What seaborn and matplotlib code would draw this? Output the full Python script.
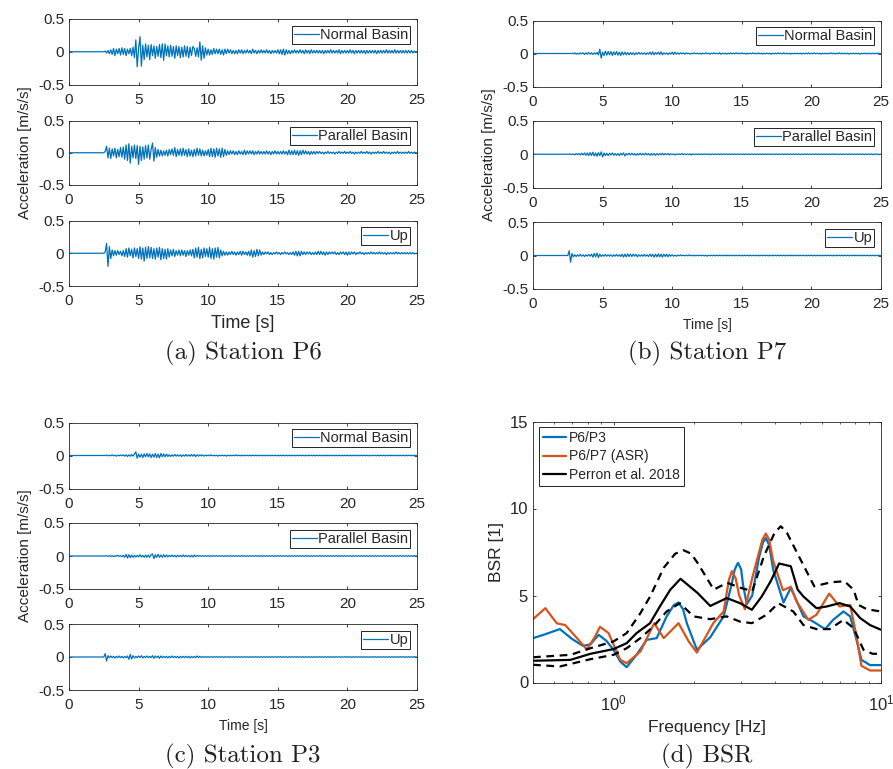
import matplotlib
matplotlib.use("Agg")
import matplotlib.pyplot as plt
import seaborn as sns
import numpy as np
from matplotlib.ticker import FormatStrFormatter

# record time base: 2.0 s .. 24.9 s, 0.1 s step (records are 0 before 2 s)
t_rec = np.arange(20, 250) / 10.0

# ---- station P6 accelerations [m/s/s], one row = 1 s ----
p6_normal = [
    0, 0, 0, 0, 0, 0, 0.01, -0.02, 0.02, -0.03,
    0.03, -0.04, 0.05, -0.06, 0.04, -0.03, 0.05, -0.05, 0.06, -0.04,
    0.05, -0.06, 0.04, -0.03, 0.05, -0.06, 0.07, -0.09, 0.18, -0.23,
    0.05, 0.23, -0.22, 0.10, -0.12, 0.12, -0.08, 0.10, -0.12, 0.11,
    -0.06, 0.09, -0.10, 0.08, -0.07, 0.11, -0.09, 0.12, -0.13, 0.12,
    -0.06, 0.09, -0.08, 0.10, -0.07, 0.08, -0.10, 0.09, -0.06, 0.08,
    -0.09, 0.07, -0.08, 0.09, -0.07, 0.08, -0.09, 0.07, -0.06, 0.08,
    0.05, -0.07, 0.06, -0.08, 0.15, -0.13, 0.09, -0.10, 0.06, -0.05,
    0.04, -0.05, 0.03, -0.04, 0.05, -0.03, 0.04, -0.03, 0.04, -0.04,
    0.03, -0.05, 0.04, -0.03, 0.04, -0.02, 0.03, -0.03, 0.02, -0.03,
    0.02, -0.03, 0.03, -0.02, 0.03, -0.03, 0.02, -0.02, 0.03, -0.02,
    0.02, -0.03, 0.04, -0.02, 0.02, -0.03, 0.02, -0.02, 0.03, -0.02,
    0.02, -0.02, 0.03, -0.02, 0.02, -0.03, 0.02, -0.02, 0.02, -0.02,
    0.03, -0.03, 0.03, -0.04, 0.04, -0.05, 0.03, -0.03, 0.02, -0.03,
    0.02, -0.02, 0.03, -0.02, 0.02, -0.02, 0.03, -0.02, 0.02, -0.03,
    0.03, -0.02, 0.02, -0.03, 0.03, -0.02, 0.02, -0.02, 0.02, -0.02,
    0.02, -0.02, 0.02, -0.03, 0.02, -0.02, 0.02, -0.02, 0.03, -0.02,
    0.02, -0.02, 0.02, -0.02, 0.03, -0.03, 0.02, -0.02, 0.02, -0.02,
    0.02, -0.02, 0.03, -0.02, 0.02, -0.03, 0.02, -0.02, 0.02, -0.02,
    0.02, -0.02, 0.02, -0.03, 0.02, -0.02, 0.02, -0.02, 0.02, -0.02,
    0.02, -0.03, 0.02, -0.02, 0.02, -0.02, 0.02, -0.02, 0.03, -0.02,
    0.02, -0.02, 0.02, -0.02, 0.03, -0.02, 0.02, -0.02, 0.02, -0.02,
    0.02, -0.02, 0.02, -0.02, 0.02, -0.02, 0.02, -0.02, 0.01, 0.0,
]
p6_parallel = [
    0, 0, 0, 0, 0, 0, 0.02, 0.10, -0.08, 0.07,
    -0.09, 0.06, -0.05, 0.07, -0.08, 0.05, -0.06, 0.08, -0.07, 0.09,
    -0.10, 0.12, -0.12, 0.14, -0.16, 0.10, -0.08, 0.12, -0.09, 0.11,
    -0.18, 0.10, -0.12, 0.09, -0.10, 0.11, -0.08, 0.12, -0.10, 0.05,
    0.15, -0.13, 0.08, -0.07, 0.05, -0.05, 0.04, -0.05, 0.03, -0.04,
    0.04, -0.05, 0.05, -0.03, 0.06, -0.04, 0.08, -0.06, 0.05, -0.04,
    0.06, -0.05, 0.07, -0.04, 0.05, -0.06, 0.06, -0.05, 0.04, -0.06,
    0.05, -0.05, 0.07, -0.04, 0.06, -0.05, 0.04, -0.05, 0.03, -0.04,
    0.05, -0.06, 0.07, -0.06, 0.06, -0.07, 0.07, -0.05, 0.06, -0.07,
    0.07, -0.06, 0.05, -0.04, 0.03, -0.03, 0.03, -0.02, 0.03, -0.03,
    0.02, -0.03, 0.03, -0.02, 0.02, -0.03, 0.04, -0.03, 0.03, -0.02,
    0.03, -0.02, 0.03, -0.03, 0.02, -0.02, 0.03, -0.02, 0.02, -0.02,
    0.02, -0.02, 0.03, -0.02, 0.02, -0.03, 0.02, -0.02, 0.03, -0.02,
    0.02, -0.02, 0.02, -0.02, 0.03, -0.02, 0.02, -0.03, 0.04, -0.03,
    0.03, -0.03, 0.04, -0.03, 0.03, -0.04, 0.03, -0.03, 0.04, -0.02,
    0.03, -0.02, 0.02, -0.03, 0.02, -0.02, 0.02, -0.02, 0.02, -0.01,
    0.02, -0.01, 0.01, -0.02, 0.01, -0.01, 0.02, -0.01, 0.01, -0.01,
    0.01, -0.02, 0.01, -0.01, 0.02, -0.01, 0.01, -0.01, 0.02, -0.01,
    0.01, -0.01, 0.02, -0.01, 0.01, -0.02, 0.01, -0.01, 0.01, -0.01,
    0.02, -0.01, 0.01, -0.01, 0.02, -0.01, 0.01, -0.02, 0.01, -0.01,
    0.01, -0.01, 0.02, -0.01, 0.01, -0.01, 0.02, -0.01, 0.01, -0.01,
    0.01, -0.02, 0.01, -0.01, 0.01, -0.01, 0.02, -0.01, 0.01, -0.01,
    0.01, -0.01, 0.01, -0.01, 0.02, -0.01, 0.01, -0.01, 0.01, 0.0,
]
p6_up = [
    0, 0, 0, 0, 0, 0, 0.02, 0.15, -0.20, 0.10,
    -0.08, 0.05, -0.04, 0.04, -0.03, 0.04, -0.02, 0.03, -0.04, 0.04,
    -0.05, 0.07, -0.06, 0.08, -0.04, 0.06, -0.07, 0.08, -0.05, 0.07,
    -0.08, 0.10, -0.09, 0.08, -0.12, 0.09, -0.08, 0.10, -0.07, 0.09,
    -0.08, 0.07, -0.09, 0.08, -0.06, 0.09, -0.10, 0.07, -0.08, 0.06,
    -0.09, 0.07, -0.06, 0.05, -0.04, 0.06, -0.05, 0.04, -0.03, 0.05,
    -0.04, 0.05, -0.03, 0.04, -0.05, 0.04, -0.03, 0.05, -0.04, 0.06,
    -0.07, 0.08, -0.06, 0.09, -0.08, 0.06, -0.07, 0.08, -0.05, 0.07,
    -0.06, 0.09, -0.08, 0.07, -0.09, 0.08, -0.06, 0.09, -0.07, 0.05,
    -0.04, 0.03, -0.03, 0.02, -0.03, 0.02, -0.02, 0.03, -0.02, 0.02,
    -0.03, 0.02, -0.02, 0.03, -0.03, 0.03, -0.02, 0.02, -0.03, 0.03,
    -0.04, 0.05, -0.06, 0.04, -0.05, 0.06, -0.04, 0.05, -0.03, 0.02,
    -0.02, 0.02, -0.01, 0.02, -0.02, 0.01, -0.02, 0.01, -0.01, 0.02,
    -0.01, 0.01, -0.02, 0.01, -0.01, 0.02, -0.01, 0.01, -0.02, 0.01,
    -0.02, 0.02, -0.03, 0.03, -0.04, 0.03, -0.04, 0.03, -0.02, 0.02,
    -0.02, 0.02, -0.01, 0.02, -0.02, 0.01, -0.02, 0.02, -0.02, 0.03,
    -0.02, 0.03, -0.02, 0.02, -0.03, 0.02, -0.02, 0.02, -0.01, 0.02,
    -0.01, 0.02, -0.02, 0.01, -0.02, 0.02, -0.01, 0.02, -0.02, 0.02,
    -0.03, 0.02, -0.02, 0.02, -0.01, 0.02, -0.02, 0.01, -0.01, 0.02,
    -0.01, 0.01, -0.02, 0.01, -0.01, 0.01, -0.01, 0.02, -0.01, 0.01,
    -0.01, 0.01, -0.01, 0.02, -0.01, 0.01, -0.01, 0.01, -0.02, 0.01,
    -0.01, 0.01, -0.01, 0.01, -0.01, 0.02, -0.01, 0.01, -0.01, 0.01,
    -0.01, 0.01, -0.01, 0.01, -0.01, 0.01, -0.01, 0.01, -0.01, 0.0,
]

# ---- station P7 ----
p7_normal = [
    0, 0, 0, 0, 0, 0, 0, 0, 0.005, -0.005,
    0.01, -0.01, 0.005, -0.01, 0.01, -0.005, 0.01, -0.015, 0.01, -0.01,
    0.015, -0.01, 0.01, -0.015, 0.01, -0.01, 0.015, -0.02, 0.065, -0.07,
    0.02, -0.03, 0.035, -0.025, 0.03, -0.02, 0.03, -0.03, 0.025, -0.02,
    0.03, -0.025, 0.02, -0.03, 0.025, -0.02, 0.02, -0.02, 0.015, -0.02,
    0.015, -0.015, 0.01, -0.02, 0.01, -0.01, 0.015, -0.01, 0.01, -0.01,
    0.01, -0.015, 0.01, -0.01, 0.02, -0.015, 0.025, -0.02, 0.015, -0.01,
    0.02, -0.015, 0.025, -0.02, 0.01, -0.01, 0.01, -0.015, 0.01, -0.01,
    0.02, -0.015, 0.02, -0.01, 0.01, -0.01, 0.01, -0.005, 0.01, -0.01,
    0.01, -0.005, 0.005, -0.01, 0.005, -0.005, 0.01, -0.005, 0.005, -0.005,
    0.005, -0.01, 0.005, -0.005, 0.01, -0.005, 0.005, -0.01, 0.005, -0.005,
    0.01, -0.005, 0.005, -0.005, 0.01, -0.01, 0.005, -0.005, 0.005, -0.01,
    0.005, -0.005, 0.01, -0.005, 0.005, -0.005, 0.01, -0.005, 0.005, -0.005,
    0.01, -0.005, 0.005, -0.01, 0.005, -0.005, 0.005, -0.005, 0.01, -0.005,
    0.005, -0.005, 0.01, -0.005, 0.005, -0.01, 0.005, -0.005, 0.005, -0.005,
    0.005, -0.01, 0.005, -0.005, 0.005, -0.005, 0.01, -0.005, 0.005, -0.005,
    0.01, -0.005, 0.005, -0.005, 0.005, -0.01, 0.005, -0.005, 0.005, -0.005,
    0.005, -0.005, 0.005, -0.01, 0.005, -0.005, 0.005, -0.005, 0.01, -0.005,
    0.005, -0.005, 0.01, -0.005, 0.005, -0.005, 0.005, -0.01, 0.005, -0.005,
    0.005, -0.005, 0.005, -0.005, 0.01, -0.005, 0.005, -0.005, 0.005, -0.005,
    0.01, -0.005, 0.005, -0.005, 0.005, -0.005, 0.005, -0.01, 0.005, -0.005,
    0.005, -0.005, 0.005, -0.005, 0.005, -0.01, 0.005, -0.005, 0.005, -0.005,
    0.005, -0.005, 0.005, -0.005, 0.005, -0.005, 0.005, -0.005, 0.005, 0.0,
]
p7_parallel = [
    0, 0, 0, 0, 0, 0, 0, 0.005, -0.005, 0.005,
    -0.01, 0.01, -0.005, 0.01, -0.01, 0.015, -0.01, 0.02, -0.015, 0.02,
    -0.02, 0.025, -0.02, 0.03, -0.025, 0.02, -0.03, 0.025, -0.02, 0.035,
    -0.04, 0.02, -0.02, 0.015, -0.02, 0.015, -0.01, 0.02, -0.015, 0.01,
    -0.015, 0.01, -0.02, 0.015, -0.01, 0.02, -0.025, 0.01, -0.01, 0.015,
    -0.01, 0.015, -0.01, 0.01, -0.015, 0.01, -0.01, 0.015, -0.01, 0.01,
    -0.01, 0.015, -0.01, 0.01, -0.015, 0.01, -0.01, 0.01, -0.015, 0.01,
    -0.01, 0.01, -0.01, 0.015, -0.01, 0.01, -0.005, 0.01, -0.01, 0.005,
    -0.005, 0.005, -0.01, 0.005, -0.005, 0.005, -0.005, 0.01, -0.005, 0.005,
    -0.005, 0.005, -0.005, 0.005, -0.01, 0.005, -0.005, 0.005, -0.005, 0.005,
    -0.005, 0.005, -0.005, 0.005, -0.005, 0.005, -0.005, 0.005, -0.005, 0.005,
    -0.005, 0.005, -0.005, 0.005, -0.005, 0.005, -0.005, 0.005, -0.005, 0.005,
    -0.005, 0.005, -0.005, 0.005, -0.005, 0.005, -0.005, 0.005, -0.005, 0.005,
    -0.005, 0.005, -0.005, 0.005, -0.005, 0.005, -0.005, 0.005, -0.005, 0.005,
    -0.005, 0.005, -0.005, 0.005, -0.005, 0.005, -0.005, 0.005, -0.005, 0.005,
    -0.005, 0.005, -0.005, 0.005, -0.005, 0.005, -0.005, 0.005, -0.005, 0.005,
    -0.005, 0.005, -0.005, 0.005, -0.005, 0.005, -0.005, 0.005, -0.005, 0.005,
    -0.005, 0.005, -0.005, 0.005, -0.005, 0.005, -0.005, 0.005, -0.005, 0.005,
    -0.005, 0.005, -0.005, 0.005, -0.005, 0.005, -0.005, 0.005, -0.005, 0.005,
    -0.005, 0.005, -0.005, 0.005, -0.005, 0.005, -0.005, 0.005, -0.005, 0.005,
    -0.005, 0.005, -0.005, 0.005, -0.005, 0.005, -0.005, 0.005, -0.005, 0.005,
    -0.005, 0.005, -0.005, 0.005, -0.005, 0.005, -0.005, 0.005, -0.005, 0.005,
    -0.005, 0.005, -0.005, 0.005, -0.005, 0.005, -0.005, 0.005, -0.005, 0.0,
]
p7_up = [
    0, 0, 0, 0, 0, 0, 0.07, -0.10, 0.03, -0.02,
    0.01, -0.015, 0.01, -0.01, 0.015, -0.01, 0.01, -0.015, 0.01, -0.01,
    0.015, -0.01, 0.02, -0.025, 0.03, -0.02, 0.035, -0.03, 0.02, -0.015,
    0.01, -0.01, 0.015, -0.01, 0.01, -0.01, 0.01, -0.015, 0.01, -0.01,
    0.015, -0.01, 0.01, -0.015, 0.02, -0.025, 0.02, -0.02, 0.025, -0.015,
    0.02, -0.015, 0.02, -0.01, 0.015, -0.02, 0.01, -0.01, 0.01, -0.01,
    0.015, -0.01, 0.01, -0.015, 0.02, -0.015, 0.02, -0.025, 0.02, -0.02,
    0.025, -0.02, 0.02, -0.025, 0.02, -0.015, 0.02, -0.02, 0.015, -0.01,
    0.01, -0.01, 0.005, -0.01, 0.005, -0.005, 0.01, -0.005, 0.005, -0.005,
    0.005, -0.005, 0.01, -0.005, 0.005, -0.005, 0.005, -0.005, 0.005, -0.005,
    0.005, -0.005, 0.005, -0.005, 0.005, -0.01, 0.005, -0.005, 0.005, -0.005,
    0.005, -0.005, 0.005, -0.005, 0.005, -0.005, 0.005, -0.005, 0.005, -0.005,
    0.005, -0.005, 0.005, -0.005, 0.005, -0.005, 0.005, -0.005, 0.005, -0.005,
    0.005, -0.005, 0.005, -0.005, 0.005, -0.005, 0.005, -0.005, 0.005, -0.005,
    0.005, -0.005, 0.005, -0.005, 0.005, -0.005, 0.005, -0.005, 0.005, -0.005,
    0.005, -0.005, 0.005, -0.005, 0.005, -0.005, 0.005, -0.005, 0.005, -0.005,
    0.005, -0.005, 0.005, -0.005, 0.005, -0.005, 0.005, -0.005, 0.005, -0.005,
    0.005, -0.005, 0.005, -0.005, 0.005, -0.005, 0.005, -0.005, 0.005, -0.005,
    0.005, -0.005, 0.005, -0.005, 0.005, -0.005, 0.005, -0.005, 0.005, -0.005,
    0.005, -0.005, 0.005, -0.005, 0.005, -0.005, 0.005, -0.005, 0.005, -0.005,
    0.005, -0.005, 0.005, -0.005, 0.005, -0.005, 0.005, -0.005, 0.005, -0.005,
    0.005, -0.005, 0.005, -0.005, 0.005, -0.005, 0.005, -0.005, 0.005, -0.005,
    0.005, -0.005, 0.005, -0.005, 0.005, -0.005, 0.005, -0.005, 0.005, 0.0,
]

# ---- station P3 ----
p3_normal = [
    0, 0, 0, 0, 0, 0, 0, 0.005, -0.005, 0.005,
    -0.005, 0.01, -0.005, 0.005, -0.01, 0.005, -0.005, 0.01, -0.005, 0.01,
    -0.01, 0.01, -0.015, 0.01, -0.01, 0.015, -0.01, 0.02, 0.055, -0.04,
    0.02, -0.025, 0.02, -0.03, 0.025, -0.02, 0.03, -0.02, 0.025, -0.03,
    0.02, -0.025, 0.03, -0.03, 0.02, -0.035, 0.03, -0.02, 0.025, -0.02,
    0.02, -0.015, 0.01, -0.015, 0.01, -0.01, 0.015, -0.01, 0.01, -0.01,
    0.01, -0.015, 0.01, -0.01, 0.015, -0.01, 0.01, -0.01, 0.015, -0.01,
    0.015, -0.015, 0.01, -0.01, 0.01, -0.005, 0.01, -0.01, 0.005, -0.005,
    0.005, -0.005, 0.01, -0.005, 0.005, -0.005, 0.005, -0.01, 0.005, -0.005,
    0.005, -0.005, 0.005, -0.01, 0.005, -0.005, 0.005, -0.005, 0.005, -0.005,
    0.01, -0.005, 0.005, -0.005, 0.005, -0.005, 0.005, -0.005, 0.005, -0.005,
    0.005, -0.005, 0.005, -0.005, 0.005, -0.005, 0.005, -0.005, 0.005, -0.005,
    0.005, -0.005, 0.005, -0.005, 0.005, -0.005, 0.005, -0.005, 0.005, -0.005,
    0.005, -0.005, 0.005, -0.005, 0.005, -0.005, 0.005, -0.005, 0.005, -0.005,
    0.005, -0.005, 0.005, -0.005, 0.005, -0.005, 0.005, -0.005, 0.005, -0.005,
    0.005, -0.005, 0.005, -0.005, 0.005, -0.005, 0.005, -0.005, 0.005, -0.005,
    0.005, -0.005, 0.005, -0.005, 0.005, -0.005, 0.005, -0.005, 0.005, -0.005,
    0.005, -0.005, 0.005, -0.005, 0.005, -0.005, 0.005, -0.005, 0.005, -0.005,
    0.005, -0.005, 0.005, -0.005, 0.005, -0.005, 0.005, -0.005, 0.005, -0.005,
    0.005, -0.005, 0.005, -0.005, 0.005, -0.005, 0.005, -0.005, 0.005, -0.005,
    0.005, -0.005, 0.005, -0.005, 0.005, -0.005, 0.005, -0.005, 0.005, -0.005,
    0.005, -0.005, 0.005, -0.005, 0.005, -0.005, 0.005, -0.005, 0.005, -0.005,
    0.005, -0.005, 0.005, -0.005, 0.005, -0.005, 0.005, -0.005, 0.005, 0.0,
]
p3_parallel = [
    0, 0, 0, 0, 0, 0, 0, 0.005, -0.005, 0.005,
    -0.005, 0.005, -0.01, 0.005, -0.005, 0.01, -0.005, 0.005, -0.01, 0.01,
    -0.02, 0.025, -0.03, 0.02, -0.025, 0.015, -0.02, 0.01, -0.015, 0.01,
    -0.015, 0.02, -0.015, 0.01, -0.02, 0.015, -0.02, 0.015, -0.02, 0.02,
    0.03, -0.04, 0.02, -0.02, 0.025, -0.02, 0.015, -0.02, 0.02, -0.015,
    0.015, -0.015, 0.01, -0.01, 0.015, -0.01, 0.01, -0.015, 0.01, -0.01,
    0.01, -0.01, 0.015, -0.01, 0.01, -0.01, 0.01, -0.015, 0.01, -0.015,
    0.015, -0.01, 0.01, -0.005, 0.005, -0.005, 0.005, -0.005, 0.005, -0.005,
    0.005, -0.005, 0.005, -0.005, 0.005, -0.005, 0.005, -0.005, 0.005, -0.005,
    0.005, -0.005, 0.005, -0.005, 0.005, -0.005, 0.005, -0.005, 0.005, -0.005,
    0.005, -0.005, 0.005, -0.005, 0.005, -0.005, 0.005, -0.005, 0.005, -0.005,
    0.005, -0.005, 0.005, -0.005, 0.005, -0.005, 0.005, -0.005, 0.005, -0.005,
    0.005, -0.005, 0.005, -0.005, 0.005, -0.005, 0.005, -0.005, 0.005, -0.005,
    0.005, -0.005, 0.005, -0.005, 0.005, -0.005, 0.005, -0.005, 0.005, -0.005,
    0.005, -0.005, 0.005, -0.005, 0.005, -0.005, 0.005, -0.005, 0.005, -0.005,
    0.005, -0.005, 0.005, -0.005, 0.005, -0.005, 0.005, -0.005, 0.005, -0.005,
    0.005, -0.005, 0.005, -0.005, 0.005, -0.005, 0.005, -0.005, 0.005, -0.005,
    0.005, -0.005, 0.005, -0.005, 0.005, -0.005, 0.005, -0.005, 0.005, -0.005,
    0.005, -0.005, 0.005, -0.005, 0.005, -0.005, 0.005, -0.005, 0.005, -0.005,
    0.005, -0.005, 0.005, -0.005, 0.005, -0.005, 0.005, -0.005, 0.005, -0.005,
    0.005, -0.005, 0.005, -0.005, 0.005, -0.005, 0.005, -0.005, 0.005, -0.005,
    0.005, -0.005, 0.005, -0.005, 0.005, -0.005, 0.005, -0.005, 0.005, -0.005,
    0.005, -0.005, 0.005, -0.005, 0.005, -0.005, 0.005, -0.005, 0.005, 0.0,
]
p3_up = [
    0, 0, 0, 0, 0, 0, 0.05, -0.06, 0.02, -0.01,
    0.015, -0.01, 0.01, -0.015, 0.01, -0.01, 0.015, -0.01, 0.01, -0.015,
    0.01, -0.01, 0.015, -0.035, 0.04, -0.03, 0.02, -0.015, 0.01, -0.01,
    0.015, -0.01, 0.02, -0.015, 0.01, -0.01, 0.015, -0.01, 0.01, -0.01,
    0.02, -0.02, 0.015, -0.01, 0.015, -0.02, 0.015, -0.01, 0.01, -0.01,
    0.01, -0.015, 0.01, -0.01, 0.015, -0.01, 0.01, -0.01, 0.01, -0.015,
    0.01, -0.01, 0.01, -0.01, 0.01, -0.01, 0.01, -0.015, 0.01, -0.01,
    0.01, -0.01, 0.015, -0.01, 0.01, -0.005, 0.005, -0.005, 0.005, -0.005,
    0.005, -0.005, 0.005, -0.005, 0.005, -0.005, 0.005, -0.005, 0.005, -0.005,
    0.005, -0.005, 0.005, -0.005, 0.005, -0.005, 0.005, -0.005, 0.005, -0.005,
    0.005, -0.005, 0.005, -0.005, 0.005, -0.005, 0.005, -0.005, 0.005, -0.005,
    0.005, -0.005, 0.005, -0.005, 0.005, -0.005, 0.005, -0.005, 0.005, -0.005,
    0.005, -0.005, 0.005, -0.005, 0.005, -0.005, 0.005, -0.005, 0.005, -0.005,
    0.005, -0.005, 0.005, -0.005, 0.005, -0.005, 0.005, -0.005, 0.005, -0.005,
    0.005, -0.005, 0.005, -0.005, 0.005, -0.005, 0.005, -0.005, 0.005, -0.005,
    0.005, -0.005, 0.005, -0.005, 0.005, -0.005, 0.005, -0.005, 0.005, -0.005,
    0.005, -0.005, 0.005, -0.005, 0.005, -0.005, 0.005, -0.005, 0.005, -0.005,
    0.005, -0.005, 0.005, -0.005, 0.005, -0.005, 0.005, -0.005, 0.005, -0.005,
    0.005, -0.005, 0.005, -0.005, 0.005, -0.005, 0.005, -0.005, 0.005, -0.005,
    0.005, -0.005, 0.005, -0.005, 0.005, -0.005, 0.005, -0.005, 0.005, -0.005,
    0.005, -0.005, 0.005, -0.005, 0.005, -0.005, 0.005, -0.005, 0.005, -0.005,
    0.005, -0.005, 0.005, -0.005, 0.005, -0.005, 0.005, -0.005, 0.005, -0.005,
    0.005, -0.005, 0.005, -0.005, 0.005, -0.005, 0.005, -0.005, 0.005, 0.0,
]

# ---- BSR spectra ----
f_p6p3 = [0.5, 0.55, 0.63, 0.70, 0.77, 0.82, 0.88, 0.94, 1.0, 1.06, 1.12, 1.22,
          1.33, 1.45, 1.58, 1.68, 1.75, 1.82, 1.88, 2.05, 2.3, 2.58, 2.75, 2.84,
          2.92, 3.0, 3.05, 3.15, 3.3, 3.5, 3.62, 3.71, 3.82, 3.95, 4.32, 4.6,
          5.13, 5.58, 6.18, 6.62, 7.24, 7.67, 8.1, 8.45, 9.1, 10.0]
bsr_p6p3 = [2.55, 2.75, 3.07, 2.5, 2.1, 2.2, 2.74, 2.4, 1.88, 1.2, 0.88, 1.6,
            2.45, 2.55, 3.8, 4.45, 4.6, 4.2, 3.4, 1.88, 2.6, 3.8, 5.5, 6.5,
            6.88, 6.5, 5.6, 4.5, 5.0, 7.2, 8.05, 8.3, 7.9, 6.5, 4.6, 5.44,
            3.8, 3.5, 3.07, 3.6, 4.08, 3.8, 2.45, 1.3, 1.0, 1.0]
f_p6p7 = [0.5, 0.556, 0.614, 0.66, 0.73, 0.795, 0.85, 0.89, 0.958, 1.06, 1.12,
          1.26, 1.42, 1.54, 1.75, 1.91, 2.05, 2.36, 2.58, 2.7, 2.77, 2.86, 2.95,
          3.1, 3.3, 3.6, 3.71, 3.82, 3.95, 4.3, 4.6, 4.84, 5.35, 5.74, 6.4, 7.0,
          7.67, 8.1, 8.45, 9.1, 10.0]
bsr_p6p7 = [3.64, 4.27, 3.4, 3.3, 2.55, 1.9, 2.6, 3.2, 2.84, 1.3, 1.11,
            1.78, 3.41, 2.55, 3.41, 2.36, 1.72, 3.41, 4.08, 5.9, 6.4, 6.0, 5.0,
            4.21, 6.0, 8.2, 8.56, 8.2, 7.0, 5.3, 5.5, 4.65, 3.6, 3.9, 5.11, 4.37,
            4.46, 2.64, 0.96, 0.69, 0.69]
f_perron = [0.5, 0.69, 0.82, 1.0, 1.12, 1.22, 1.37, 1.49, 1.63, 1.78, 2.06, 2.3,
            2.65, 2.97, 3.29, 3.58, 3.87, 4.16, 4.6, 4.88, 5.13, 5.74, 6.27, 7.0,
            7.67, 8.36, 9.1, 10.0]
bsr_perron = [1.25, 1.3, 1.65, 1.92, 2.26, 2.84, 3.41, 4.37, 5.33, 5.96, 5.15, 4.4,
              4.85, 4.56, 4.18, 4.94, 5.82, 6.84, 6.68, 5.34, 4.94, 4.27, 4.37, 4.56,
              4.37, 3.7, 3.3, 3.03]
f_perron_hi = [0.5, 0.69, 0.82, 1.0, 1.12, 1.26, 1.37, 1.54, 1.7, 1.83, 1.95, 2.06,
               2.37, 2.66, 2.99, 3.3, 3.65, 4.0, 4.22, 4.45, 5.0, 5.63, 6.5, 7.3,
               7.9, 8.24, 8.85, 10.0]
bsr_perron_hi = [1.45, 1.59, 1.97, 2.36, 2.84, 3.98, 4.94, 6.59, 7.4, 7.6, 7.4, 6.88,
                 5.34, 5.73, 5.44, 5.25, 7.26, 8.6, 8.98, 8.6, 7.07, 5.53, 5.76, 5.82,
                 5.33, 4.46, 4.21, 4.08]
f_perron_lo = [0.5, 0.63, 0.82, 1.0, 1.12, 1.26, 1.41, 1.58, 1.77, 1.99, 2.3, 2.65,
               2.97, 3.29, 3.74, 4.13, 4.7, 5.13, 5.74, 6.43, 7.24, 7.9, 8.6, 9.3, 10.0]
bsr_perron_lo = [1.02, 0.92, 1.34, 1.59, 1.97, 2.55, 3.22, 4.08, 4.56, 3.8, 3.64, 3.8,
                 3.5, 3.41, 3.9, 4.56, 4.08, 3.3, 3.07, 3.07, 3.6, 3.12, 1.88, 1.65, 1.65]

BLUE = "#0072BD"
ORANGE = "#D95319"
AXC = "#262626"

sns.set_theme(style="ticks")
plt.rcParams["font.family"] = ["Liberation Sans", "DejaVu Sans"]
plt.rcParams.update({
    "mathtext.fontset": "custom",
    "mathtext.rm": "Liberation Sans",
    "axes.unicode_minus": False,
    "axes.edgecolor": AXC,
    "axes.linewidth": 0.6,
    "xtick.color": AXC,
    "ytick.color": AXC,
    "xtick.direction": "in",
    "ytick.direction": "in",
    "xtick.top": True,
    "ytick.right": True,
    "xtick.major.size": 2.5,
    "ytick.major.size": 2.5,
    "xtick.minor.size": 1.5,
    "xtick.major.width": 0.6,
    "ytick.major.width": 0.6,
    "xtick.minor.width": 0.5,
    "xtick.major.pad": 6,
    "xtick.minor.pad": 6,
    "xtick.labelsize": 11,
    "ytick.labelsize": 11,
})

W, H = 893, 769
fig = plt.figure(figsize=(W / 100, H / 100), dpi=100)


def px_axes(x0, y0, x1, y1):
    return fig.add_axes([x0 / W, 1 - y1 / H, (x1 - x0) / W, (y1 - y0) / H])


def trace(ax, vals, label):
    x = np.r_[0.0, t_rec, 25.0]
    y = np.r_[0.0, vals, 0.0]
    sns.lineplot(x=x, y=y, ax=ax, color=BLUE, lw=0.9, label=label,
                 estimator=None, sort=False)
    ax.set_xlim(0, 25)
    ax.set_ylim(-0.5, 0.5)
    ax.set_xticks([0, 5, 10, 15, 20, 25])
    ax.set_yticks([-0.5, 0, 0.5])
    ax.yaxis.set_major_formatter(FormatStrFormatter("%g"))
    ax.set_xlabel("")
    ax.set_ylabel("")
    leg = ax.legend(loc="upper right", fontsize=10.5, frameon=True, fancybox=False,
                    framealpha=1, edgecolor="black", handlelength=1.7,
                    handletextpad=0.1, borderpad=0.15, borderaxespad=0.45)
    leg.get_frame().set_linewidth(0.6)


labels = ["Normal Basin", "Parallel Basin", "Up"]
stations = [
    ([p6_normal, p6_parallel, p6_up], 69, 417,
     [(19, 84.5), (120.5, 185), (220.5, 286)], 13),
    ([p7_normal, p7_parallel, p7_up], 533, 881,
     [(20.5, 86.5), (121, 187.5), (222, 289)], 10),
    ([p3_normal, p3_parallel, p3_up], 69, 417,
     [(422.5, 488.5), (523, 589), (624, 690)], 10),
]
for recs, x0, x1, rows, tfs in stations:
    axs = []
    for vals, lab, (y0, y1) in zip(recs, labels, rows):
        ax = px_axes(x0, y0, x1, y1)
        trace(ax, vals, lab)
        axs.append(ax)
    axs[1].set_ylabel("Acceleration [m/s/s]", fontsize=11, color=AXC)
    axs[2].set_xlabel("Time [s]", fontsize=tfs, color=AXC, labelpad=5)

# BSR panel
axd = px_axes(533, 421.5, 881, 682.5)
sns.lineplot(x=f_p6p3, y=bsr_p6p3, ax=axd, color=BLUE, lw=1.6, label="P6/P3",
             estimator=None, sort=False)
sns.lineplot(x=f_p6p7, y=bsr_p6p7, ax=axd, color=ORANGE, lw=1.6,
             label="P6/P7 (ASR)", estimator=None, sort=False)
sns.lineplot(x=f_perron, y=bsr_perron, ax=axd, color="black", lw=1.6,
             label="Perron et al. 2018", estimator=None, sort=False)
sns.lineplot(x=f_perron_hi, y=bsr_perron_hi, ax=axd, color="black", lw=1.6,
             linestyle=(0, (3.5, 2.5)), estimator=None, sort=False)
sns.lineplot(x=f_perron_lo, y=bsr_perron_lo, ax=axd, color="black", lw=1.6,
             linestyle=(0, (3.5, 2.5)), estimator=None, sort=False)
axd.set_xscale("log")
axd.set_xlim(0.5, 10)
axd.set_ylim(0, 15)
axd.set_yticks([0, 5, 10, 15])
axd.tick_params(labelsize=12)
axd.tick_params(axis="x", which="both", pad=8)
axd.set_xlabel("Frequency [Hz]", fontsize=12.5, color=AXC, labelpad=5)
axd.set_ylabel("BSR [1]", fontsize=12.5, color=AXC)
h, l = axd.get_legend_handles_labels()
leg = axd.legend(h[:3], l[:3], loc="upper left", fontsize=10, frameon=True,
                 fancybox=False, framealpha=1, edgecolor="black", handlelength=1.65,
                 handletextpad=0.25, borderpad=0.3, labelspacing=0.3,
                 borderaxespad=0.4)
leg.get_frame().set_linewidth(0.6)

# sub-figure captions
cap = dict(ha="center", va="center", fontsize=18, family="cmr10", color="#222222")
fig.text(243 / W, 1 - 353 / H, "(a) Station P6", **cap)
fig.text(707 / W, 1 - 353 / H, "(b) Station P7", **cap)
fig.text(243 / W, 1 - 756 / H, "(c) Station P3", **cap)
fig.text(707 / W, 1 - 756 / H, "(d) BSR", **cap)

fig.savefig("out.png", dpi=100)
